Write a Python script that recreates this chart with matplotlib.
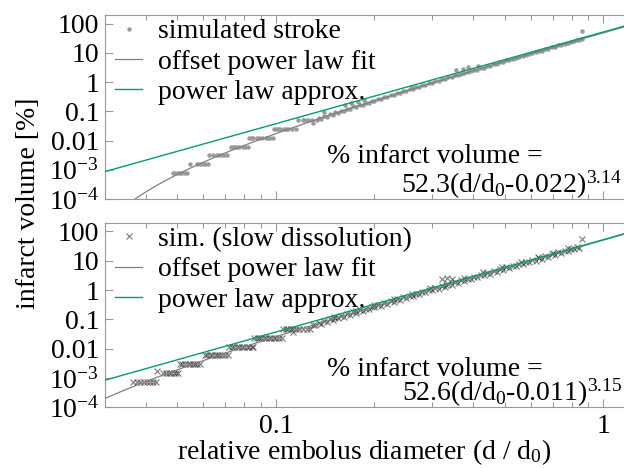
import numpy as np
import matplotlib.pyplot as plt
from matplotlib.ticker import FixedLocator, FixedFormatter, LogLocator, NullFormatter

plt.rcParams['font.family'] = ['Liberation Serif', 'DejaVu Serif']
plt.rcParams['font.size'] = 20
plt.rcParams['mathtext.fontset'] = 'custom'
plt.rcParams['mathtext.rm'] = 'Liberation Serif'
plt.rcParams['mathtext.it'] = 'Liberation Serif:italic'

# fit parameters: prefactor, offset, exponent
top_fit = (52.3, 0.022, 3.14)
bot_fit = (52.6, 0.011, 3.15)

# simulated stroke (top panel)
top_d = [0.0485, 0.0493, 0.0502, 0.0510, 0.0518, 0.0527, 0.0536,
         0.0548, 0.0572, 0.0586, 0.0597, 0.0607, 0.0618,
         0.0625, 0.0643, 0.0661, 0.0672, 0.0682, 0.0696, 0.0707,
         0.0727, 0.0738, 0.0749, 0.0760, 0.0772, 0.0794, 0.0806, 0.0819,
         0.0827, 0.0840, 0.0852, 0.0877, 0.0890, 0.0904, 0.0930, 0.0945, 0.0959, 0.0977,
         0.0985, 0.1000, 0.1015, 0.1030, 0.1060, 0.1075, 0.1090, 0.1120, 0.1150,
         0.117, 0.121, 0.123, 0.125, 0.129, 0.133, 0.130,
         0.135, 0.140, 0.146, 0.152, 0.158, 0.165, 0.172, 0.180, 0.188, 0.196,
         0.205, 0.214, 0.224, 0.234, 0.245, 0.256, 0.268, 0.280, 0.293, 0.307,
         0.321, 0.336, 0.352, 0.368, 0.385, 0.403, 0.422, 0.441, 0.462, 0.483,
         0.506, 0.529, 0.554, 0.580, 0.607, 0.635, 0.665, 0.696, 0.728, 0.762,
         0.797, 0.834, 0.858,
         0.137, 0.143, 0.149, 0.155, 0.161, 0.168, 0.176, 0.184, 0.192, 0.200,
         0.209, 0.219, 0.229, 0.240, 0.250, 0.262, 0.274, 0.286, 0.300, 0.314,
         0.328, 0.344, 0.360, 0.376, 0.394, 0.412, 0.431, 0.451, 0.472, 0.494,
         0.517, 0.541, 0.567, 0.593, 0.621, 0.650, 0.680, 0.712, 0.745, 0.779,
         0.815, 0.846,
         0.140, 0.163, 0.170, 0.178, 0.186, 0.260, 0.356, 0.372, 0.387,
         0.415, 0.860]
top_v = [7.7e-4, 7.7e-4, 7.7e-4, 7.7e-4, 7.7e-4, 7.7e-4, 7.7e-4,
         1.55e-3, 1.55e-3, 1.55e-3, 1.55e-3, 1.55e-3, 1.55e-3,
         3.1e-3, 3.1e-3, 3.1e-3, 3.1e-3, 3.1e-3, 3.1e-3, 3.1e-3,
         6.2e-3, 6.2e-3, 6.2e-3, 6.2e-3, 6.2e-3, 6.2e-3, 6.2e-3, 6.2e-3,
         0.0125, 0.0125, 0.0125, 0.0125, 0.0125, 0.0125, 0.0125, 0.0125, 0.0125, 0.0125,
         0.025, 0.025, 0.025, 0.025, 0.025, 0.025, 0.025, 0.025, 0.025,
         0.05, 0.05, 0.05, 0.05, 0.05, 0.05, 0.039,
         0.060, 0.068, 0.080, 0.095, 0.104, 0.125, 0.150, 0.172, 0.200, 0.228,
         0.265, 0.310, 0.370, 0.430, 0.500, 0.580, 0.680, 0.790, 0.910, 1.07,
         1.24, 1.45, 1.70, 1.95, 2.28, 2.65, 3.10, 3.55, 4.15, 4.80,
         5.55, 6.45, 7.50, 8.70, 10.1, 11.7, 13.6, 15.7, 18.2, 21.0,
         24.3, 28.0, 30.5,
         0.056, 0.066, 0.078, 0.090, 0.106, 0.122, 0.142, 0.168, 0.196, 0.226,
         0.266, 0.312, 0.365, 0.430, 0.500, 0.585, 0.680, 0.790, 0.925, 1.08,
         1.26, 1.47, 1.72, 2.00, 2.33, 2.70, 3.15, 3.65, 4.25, 4.95,
         5.75, 6.65, 7.75, 9.0, 10.5, 12.1, 14.1, 16.3, 18.9, 21.9,
         25.5, 28.6,
         0.095, 0.165, 0.190, 0.210, 0.240, 0.700, 2.6, 2.9, 3.2,
         3.6, 56.0]

# sim. (slow dissolution) (bottom panel)
bot_d = [0.0367, 0.0376, 0.0385, 0.0394, 0.0403, 0.0412, 0.0421, 0.0431,
         0.0433,
         0.0453, 0.0462, 0.0470, 0.0478, 0.0487, 0.0495, 0.0503,
         0.0509, 0.0518, 0.0528, 0.0537, 0.0547, 0.0557, 0.0566, 0.0575, 0.0585,
         0.0606, 0.0616, 0.0627, 0.0638, 0.0649, 0.0660, 0.0672, 0.0684, 0.0700, 0.0713,
         0.0720, 0.0733, 0.0746, 0.0759, 0.0772, 0.0786, 0.0800, 0.0814, 0.0828, 0.0842, 0.0850,
         0.0857, 0.0872, 0.0888, 0.0903, 0.0919, 0.0935, 0.0951, 0.0968, 0.0985, 0.1003, 0.1020, 0.1040,
         0.1124,
         0.105, 0.107, 0.109, 0.111, 0.113, 0.115, 0.118, 0.121, 0.124, 0.127,
         0.130, 0.135, 0.140, 0.146, 0.152, 0.158, 0.165, 0.172, 0.180, 0.188,
         0.196, 0.205, 0.214, 0.224, 0.234, 0.245, 0.256, 0.268, 0.280, 0.293,
         0.307, 0.321, 0.336, 0.352, 0.368, 0.385, 0.403, 0.422, 0.441, 0.462,
         0.483, 0.506, 0.529, 0.554, 0.580, 0.607, 0.635, 0.665, 0.696, 0.728,
         0.762, 0.797, 0.834,
         0.132, 0.137, 0.143, 0.149, 0.155, 0.161, 0.168, 0.176, 0.184, 0.192,
         0.200, 0.209, 0.219, 0.229, 0.240, 0.250, 0.262, 0.274, 0.286, 0.300,
         0.314, 0.328, 0.344, 0.360, 0.376, 0.394, 0.412, 0.431, 0.451, 0.472,
         0.494, 0.517, 0.541, 0.567, 0.593, 0.621, 0.650, 0.680, 0.712, 0.745,
         0.779, 0.815, 0.846,
         0.150, 0.175, 0.200, 0.230, 0.260, 0.295, 0.330, 0.375, 0.430, 0.490,
         0.560, 0.630, 0.700, 0.780,
         0.322, 0.333, 0.345, 0.858]
bot_v = [7.4e-4, 7.4e-4, 7.4e-4, 7.4e-4, 7.4e-4, 7.4e-4, 7.4e-4, 7.4e-4,
         1.75e-3,
         1.48e-3, 1.48e-3, 1.48e-3, 1.48e-3, 1.48e-3, 1.48e-3, 1.48e-3,
         2.9e-3, 2.9e-3, 2.9e-3, 2.9e-3, 2.9e-3, 2.9e-3, 2.9e-3, 2.9e-3, 2.9e-3,
         5.9e-3, 5.9e-3, 5.9e-3, 5.9e-3, 5.9e-3, 5.9e-3, 5.9e-3, 5.9e-3, 5.9e-3, 5.9e-3,
         0.0117, 0.0117, 0.0117, 0.0117, 0.0117, 0.0117, 0.0117, 0.0117, 0.0117, 0.0117, 0.0117,
         0.023, 0.023, 0.023, 0.023, 0.023, 0.023, 0.023, 0.023, 0.023, 0.023, 0.023, 0.023,
         0.037,
         0.048, 0.048, 0.048, 0.048, 0.048, 0.048, 0.048, 0.048, 0.048, 0.048,
         0.066, 0.076, 0.086, 0.100, 0.114, 0.130, 0.151, 0.174, 0.202, 0.234,
         0.269, 0.312, 0.360, 0.419, 0.484, 0.564, 0.651, 0.757, 0.874, 1.01,
         1.18, 1.37, 1.59, 1.85, 2.13, 2.47, 2.86, 3.32, 3.83, 4.45,
         5.14, 5.97, 6.89, 7.99, 9.26, 10.7, 12.4, 14.4, 16.6, 19.2,
         22.2, 25.6, 29.6,
         0.063, 0.072, 0.082, 0.094, 0.108, 0.124, 0.143, 0.166, 0.192, 0.222,
         0.256, 0.297, 0.344, 0.399, 0.462, 0.536, 0.621, 0.720, 0.833, 0.969,
         1.125, 1.30, 1.51, 1.76, 2.03, 2.35, 2.73, 3.16, 3.65, 4.23,
         4.90, 5.67, 6.56, 7.61, 8.81, 10.2, 11.8, 13.7, 15.8, 18.3,
         21.1, 24.4, 27.4,
         0.121, 0.200, 0.320, 0.50, 0.76, 1.15, 1.54, 2.5, 4.2, 6.0,
         9.2, 13.3, 18.6, 26.3,
         2.3, 2.6, 2.4, 54.0]

y_ticks = [1e-4, 1e-3, 0.01, 0.1, 1, 10, 100]
y_labels = [r'$\mathregular{10^{-4}}$', r'$\mathregular{10^{-3}}$', '0.01', '0.1', '1', '10', '100']
x_ticks = [0.1, 1]
x_labels = ['0.1', '1']

frame = '#999999'
green = '#009e73'
fitgray = '#808080'


def draw_panel(ax, d, v, fit, point_label, marker_kw, eq_text, eq_y):
    a, off, p = fit
    ax.plot(d, v, linestyle='none', label=point_label, zorder=2, **marker_kw)
    dd = np.logspace(np.log10(off * 1.0001), np.log10(1.2), 600)
    ax.plot(dd, a * (dd - off) ** p, color=fitgray, lw=0.9, zorder=3,
            label='offset power law fit')
    ax.plot(dd, a * dd ** p, color=green, lw=1.0, zorder=4,
            label='power law approx.')
    ax.set_xscale('log')
    ax.set_yscale('log')
    ax.set_xlim(0.03, 1.157)
    ax.set_ylim(1e-4, 200)

    ax.yaxis.set_major_locator(FixedLocator(y_ticks))
    ax.yaxis.set_major_formatter(FixedFormatter(y_labels))
    ax.yaxis.set_minor_locator(LogLocator(base=10, subs=np.arange(2, 10)))
    ax.yaxis.set_minor_formatter(NullFormatter())
    ax.xaxis.set_major_locator(FixedLocator(x_ticks))
    ax.xaxis.set_major_formatter(FixedFormatter(x_labels))
    ax.xaxis.set_minor_locator(LogLocator(base=10, subs=np.arange(2, 10)))
    ax.xaxis.set_minor_formatter(NullFormatter())

    ax.tick_params(which='both', direction='in', top=True, right=False,
                   color=frame, width=0.8)
    ax.tick_params(which='major', length=6)
    ax.tick_params(which='minor', length=3.5)
    ax.tick_params(axis='x', pad=5)
    ax.tick_params(axis='y', pad=4)
    for side in ['left', 'top', 'bottom']:
        ax.spines[side].set_color(frame)
        ax.spines[side].set_linewidth(0.8)
    ax.spines['right'].set_visible(False)

    ax.legend(loc='upper left', bbox_to_anchor=(0.019, 0.978), frameon=False,
              fontsize=20, handlelength=1.0, handletextpad=0.55,
              labelspacing=0.17, borderaxespad=0, borderpad=0)

    ax.text(0.428, eq_y[0], '% infarct volume =', transform=ax.transAxes,
            ha='left', va='baseline')
    ax.text(0.996, eq_y[1], eq_text, transform=ax.transAxes,
            ha='right', va='baseline')


fig = plt.figure(figsize=(6.24, 4.68), dpi=100)
ax_top = fig.add_axes([0.168, 0.5748, 0.832, 0.3932])
ax_bot = fig.add_axes([0.168, 0.1297, 0.832, 0.3945])

draw_panel(ax_top, top_d, top_v, top_fit, 'simulated stroke',
           dict(marker='o', ms=3.2, color='#999999', mec='none'),
           r'52.3(d/d$\mathregular{_0}$-0.022)$\mathregular{^{3.14}}$', (0.196, 0.035))
draw_panel(ax_bot, bot_d, bot_v, bot_fit, 'sim. (slow dissolution)',
           dict(marker='x', ms=4, mew=0.8, color='#222222', alpha=0.6),
           r'52.6(d/d$\mathregular{_0}$-0.011)$\mathregular{^{3.15}}$', (0.17, 0.036))

ax_top.set_xticklabels([])

fig.text(0.046, 1 - 203 / 468, 'infarct volume [%]', rotation=90,
         ha='center', va='center')
fig.text(0.584, 1 - 459 / 468, r'relative embolus diameter (d / d$\mathregular{_0}$)',
         ha='center', va='baseline')

fig.savefig('out.png', dpi=100)
